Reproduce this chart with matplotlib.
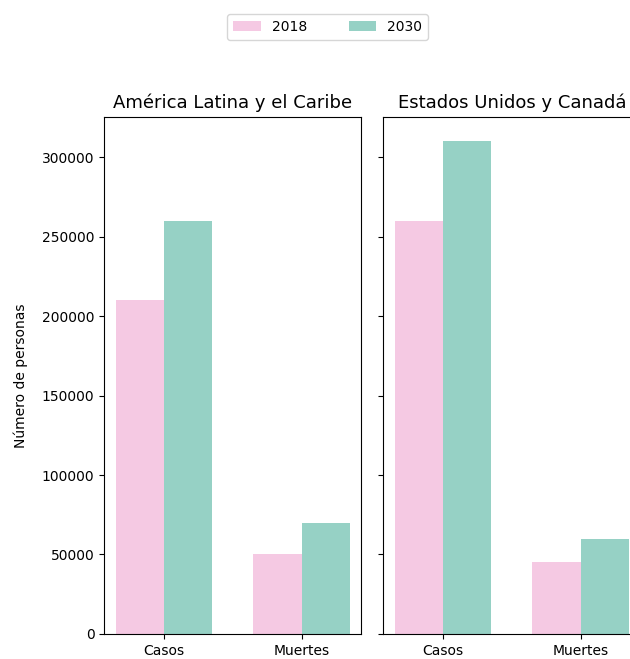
import numpy as np
import matplotlib
matplotlib.use("Agg")
import matplotlib.pyplot as plt

categories = ["Casos", "Muertes"]
regions = ["América Latina y el Caribe", "Estados Unidos y Canadá"]
years = ["2018", "2030"]
values2018 = [[210000, 50000], [260000, 45000]]
values2030 = [[260000, 70000], [310000, 60000]]
colors = ["#f5c9e3", "#96d1c5"]

fig = plt.figure(figsize=(6.3, 6.59), dpi=100)
axLeft = fig.add_axes([0.1655, 0.038, 0.408, 0.785])
axRight = fig.add_axes([0.6084, 0.038, 0.408, 0.785], sharey=axLeft)

width = 0.35
x = np.arange(len(categories))
for i, ax in enumerate([axLeft, axRight]):
    ax.bar(x - width / 2, values2018[i], width, color=colors[0], label=years[0])
    ax.bar(x + width / 2, values2030[i], width, color=colors[1], label=years[1])
    ax.set_xticks(x)
    ax.set_xticklabels(categories)
    ax.set_title(regions[i], fontsize=13)

axLeft.set_ylim(0, 325500)
axLeft.set_ylabel("Número de personas", labelpad=10)
plt.setp(axRight.get_yticklabels(), visible=False)

handles, labels = axLeft.get_legend_handles_labels()
fig.legend(handles, labels, loc="center", bbox_to_anchor=(0.52, 0.959), ncol=2, columnspacing=3.0)

fig.savefig("out.png", dpi=100)
